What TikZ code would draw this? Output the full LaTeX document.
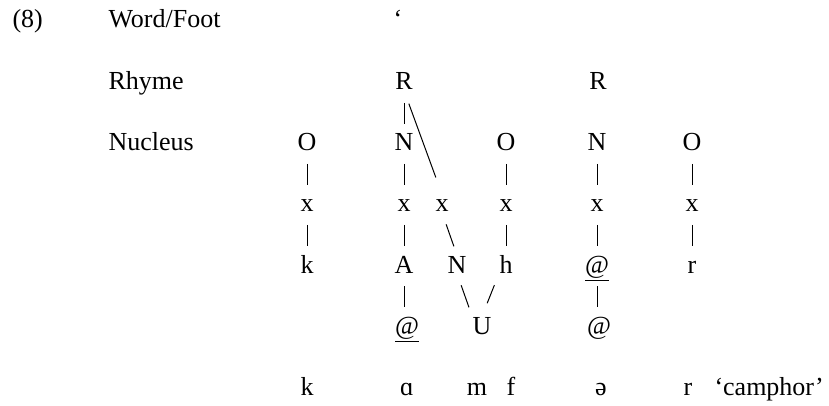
\documentclass[tikz,border=0pt]{standalone}
\usepackage{fontspec}
\setmainfont{Liberation Serif}
\usetikzlibrary{positioning}
\tikzset{
  lab/.style={anchor=base west,inner sep=0pt},
  seg/.style={anchor=base,inner sep=0pt,text height=8.6pt,text depth=0pt},
  bar/.style={shorten <=6.25pt,shorten >=4.75pt}
}
\begin{document}
\begin{tikzpicture}[x=0.5pt,y=-0.5pt,font=\fontsize{13}{15}\selectfont,line width=0.5pt]
\useasboundingbox (0,0) rectangle (829,406);
% tier labels
\node[lab] (num) at (12,28) {(8)};
\node[lab] (word) at (108,28) {Word/Foot};
\node[lab] (rhyme) at (108,90) {Rhyme};
\node[lab] (nucl) at (108,151) {Nucleus};
\node[seg] (stress) at (398,28) {‘};
% rhymes and nuclei
\node[seg] (R1) at (404,90) {R};
\node[seg] (R2) at (598,90) {R};
\node[seg] (O1) at (307,151) {O};
\node[seg] (N1) at (404,151) {N};
\node[seg] (O2) at (506,151) {O};
\node[seg] (N2) at (597,151) {N};
\node[seg] (O3) at (692,151) {O};
% skeleton
\node[seg] (x1) at (307,212) {x};
\node[seg] (x2) at (404,212) {x};
\node[seg] (x3) at (442,212) {x};
\node[seg] (x4) at (506,212) {x};
\node[seg] (x5) at (597,212) {x};
\node[seg] (x6) at (692,212) {x};
% melody
\node[seg] (k) at (307,273) {k};
\node[seg] (A) at (404,273) {A};
\node[seg] (Nm) at (457,273) {N};
\node[seg] (h) at (506,273) {h};
\node[seg] (at1) at (597,273) {\underline{@}};
\node[seg] (r) at (692,273) {r};
\node[seg] (at2) at (407,334) {\underline{@}};
\node[seg] (U) at (482,334) {U};
\node[seg] (at3) at (599,334) {@};
% surface form
\node[seg] (k2) at (307,395) {k};
\node[seg] (a2) at (407,395) {ɑ};
\node[seg] (m2) at (477,395) {m};
\node[seg] (f2) at (511,395) {f};
\node[seg] (e2) at (601,395) {ə};
\node[seg] (r2) at (688,395) {r};
\node[lab] (gloss) at (714,395) {‘camphor’};
% association lines
\draw[bar] (R1.south) -- (R1.south |- N1.north);
\draw[shorten <=7pt,shorten >=9pt] (R1.south) -- (x3.north);
\draw[bar] (O1.south) -- (O1.south |- x1.north);
\draw[bar] (x1.south) -- (x1.south |- k.north);
\draw[bar] (N1.south) -- (N1.south |- x2.north);
\draw[bar] (x2.south) -- (x2.south |- A.north);
\draw[bar] (A.south) -- (A.south |- at2.north);
\draw[bar] (x3.south) -- (Nm.north);
\draw[bar] (Nm.south) -- (U.north west);
\draw[bar,shorten >=7pt] (h.south west) -- (U.north);
\draw[bar] (O2.south) -- (O2.south |- x4.north);
\draw[bar] (x4.south) -- (x4.south |- h.north);
\draw[bar] (N2.south) -- (N2.south |- x5.north);
\draw[bar] (x5.south) -- (x5.south |- at1.north);
\draw[bar] (at1.south) -- (at1.south |- at3.north);
\draw[bar] (O3.south) -- (O3.south |- x6.north);
\draw[bar] (x6.south) -- (x6.south |- r.north);
\end{tikzpicture}
\end{document}
